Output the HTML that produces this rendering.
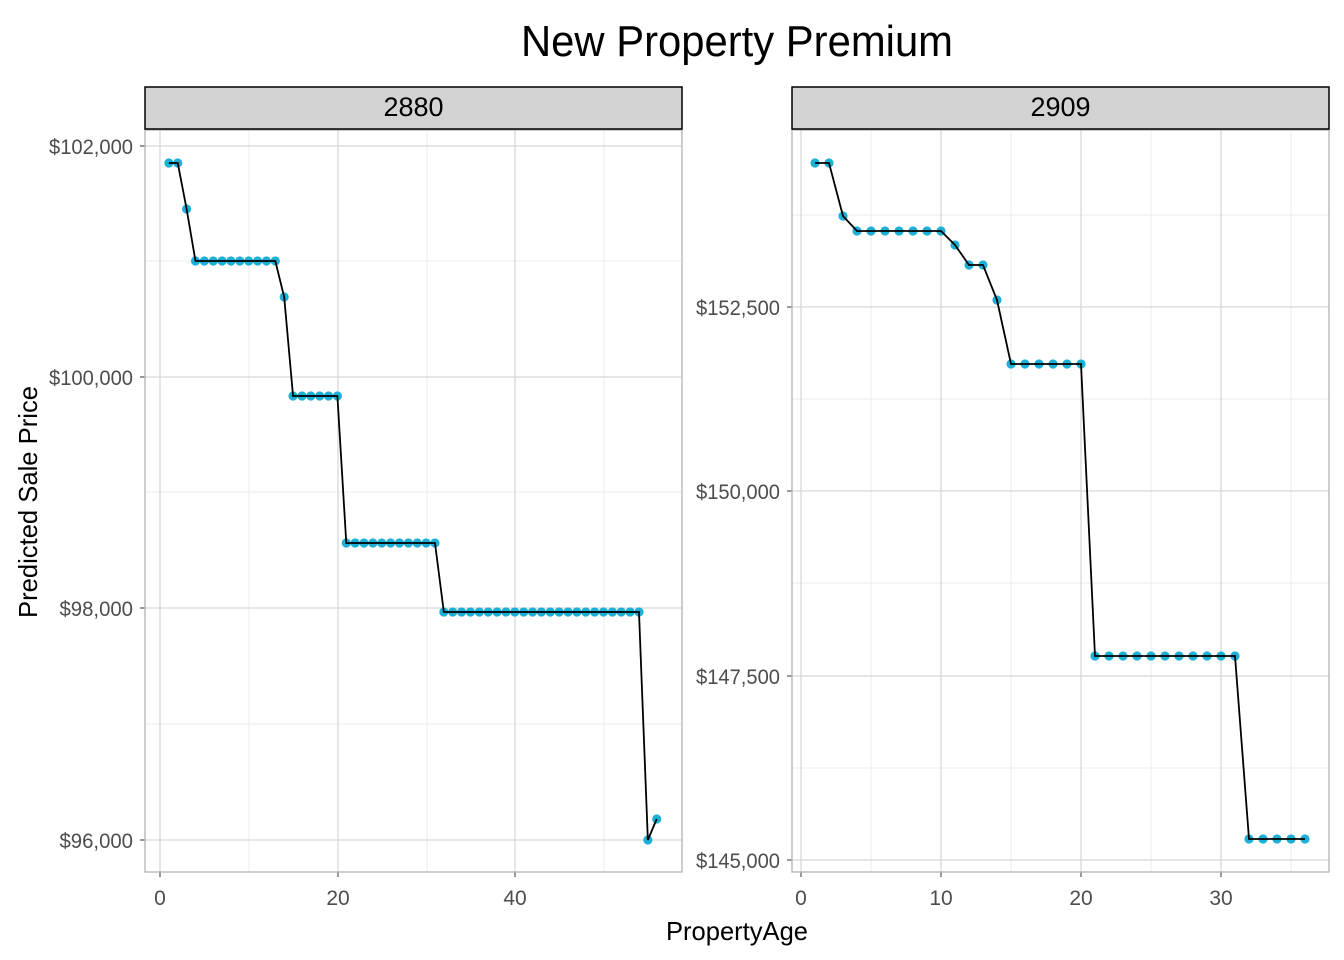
<!DOCTYPE html>
<html><head><meta charset="utf-8"><style>body{margin:0;background:#fff}svg{display:block}text{font-family:"Liberation Sans",sans-serif}</style></head>
<body>
<svg id="s" width="1344" height="960" xmlns="http://www.w3.org/2000/svg">
<rect width="1344" height="960" fill="#fff"/>
<text x="737" y="56" font-size="44" text-anchor="middle" textLength="432" lengthAdjust="spacingAndGlyphs">New Property Premium</text>
<text x="737" y="940" font-size="26" text-anchor="middle" textLength="142" lengthAdjust="spacingAndGlyphs">PropertyAge</text>
<text transform="translate(37,502) rotate(-90)" font-size="26" text-anchor="middle" textLength="232" lengthAdjust="spacingAndGlyphs">Predicted Sale Price</text>
</svg>
<script>
const s=document.getElementById('s'),NS='http://www.w3.org/2000/svg';
function el(t,a,txt){const e=document.createElementNS(NS,t);for(const k in a)e.setAttribute(k,a[k]);if(txt!=null)e.textContent=txt;s.appendChild(e);return e;}
function panel(x0,x1,label,majX,minX,xl,majY,minY,yl,pts){
 const y0=130,y1=872;
 for(const v of minY)el('line',{x1:x0,x2:x1,y1:v,y2:v,stroke:'#ebebeb','stroke-width':1});
 for(const v of minX)el('line',{x1:v,x2:v,y1:y0,y2:y1,stroke:'#ebebeb','stroke-width':1});
 majY.forEach((v,i)=>{el('line',{x1:x0,x2:x1,y1:v,y2:v,stroke:'#d6d6d6','stroke-width':1.2});
  el('line',{x1:x0-5,x2:x0,y1:v,y2:v,stroke:'#333','stroke-width':1});
  el('text',{x:x0-12,y:v+8,'font-size':21,'text-anchor':'end',fill:'#4d4d4d',textLength:yl[i].length*10.5,lengthAdjust:'spacingAndGlyphs'},yl[i]);});
 majX.forEach((v,i)=>{el('line',{x1:v,x2:v,y1:y0,y2:y1,stroke:'#d6d6d6','stroke-width':1.2});
  el('line',{x1:v,x2:v,y1:y1,y2:y1+5,stroke:'#333','stroke-width':1});
  el('text',{x:v,y:905,'font-size':21,'text-anchor':'middle',fill:'#4d4d4d'},xl[i]);});
 el('rect',{x:x0,y:y0,width:x1-x0,height:y1-y0,fill:'none',stroke:'#b3b3b3','stroke-width':1.3});
 el('rect',{x:x0,y:87,width:x1-x0,height:42,fill:'#d3d3d3',stroke:'#000','stroke-width':1.5});
 el('text',{x:(x0+x1)/2,y:116,'font-size':27,'text-anchor':'middle'},label);
 for(const p of pts)el('circle',{cx:p[0],cy:p[1],r:4.6,fill:'#1db0d6'});
 el('polyline',{points:pts.map(p=>p.join(',')).join(' '),fill:'none',stroke:'#000','stroke-width':1.8});
}
function build(n,fx,fy){const a=[];for(let i=1;i<=n;i++)a.push([fx(i),fy(i)]);return a;}
const L=i=>i<=2?163:i==3?209:i<=13?261:i==14?297:i<=20?396:i<=31?543:i<=54?612:i==55?840:819;
panel(145,682,'2880',[160,338,515],[249,427,604],['0','20','40'],[146,377,608,840],[261,492,724],['$102,000','$100,000','$98,000','$96,000'],build(56,i=>160+i*8.87,L));
const R=i=>i<=2?163:i==3?216:i<=10?231:i==11?245:i<=13?265:i==14?300:i<=20?364:i<=31?656:839;
panel(792,1329,'2909',[801,941,1081,1221],[871,1011,1151,1291],['0','10','20','30'],[307,491,676,860],[215,399,583,768],['$152,500','$150,000','$147,500','$145,000'],build(36,i=>801+i*14,R));
</script>
</body></html>
